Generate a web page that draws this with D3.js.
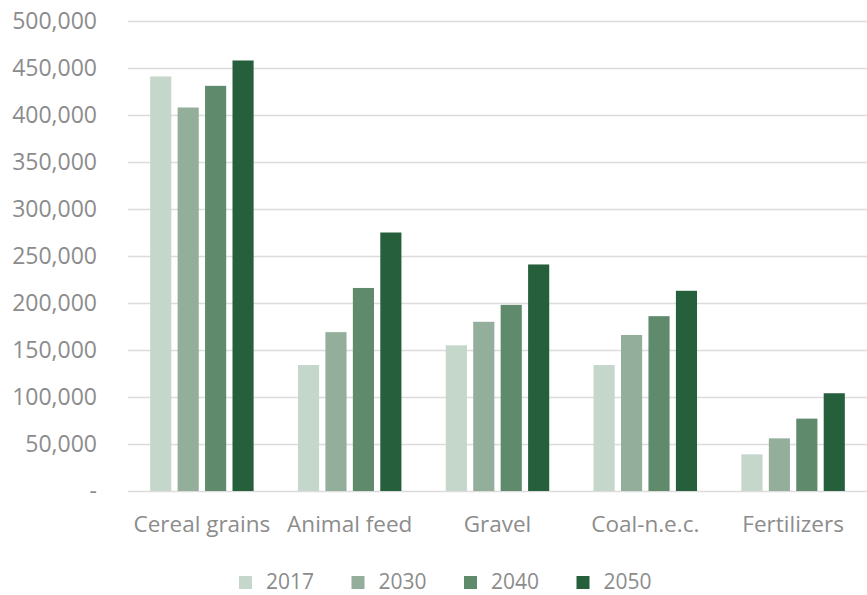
<!DOCTYPE html>
<html>
<head>
<meta charset="utf-8">
<script src="https://cdn.jsdelivr.net/npm/d3@7"></script>
<style>
  html, body { margin: 0; padding: 0; background: #ffffff; }
  svg { display: block; }
  text { font-family: "Open Sans", "Noto Sans", sans-serif; fill: #8c8c8c; }
</style>
</head>
<body>
<svg id="chart" width="867" height="595"></svg>
<script>
// Freight tonnage by commodity and forecast year
const categories = ["Cereal grains", "Animal feed", "Gravel", "Coal-n.e.c.", "Fertilizers"];
const years = ["2017", "2030", "2040", "2050"];
const values2017 = [441000, 134000, 155000, 134000, 39000];
const values2030 = [408000, 169000, 180000, 166000, 56000];
const values2040 = [431000, 216000, 198000, 186000, 77000];
const values2050 = [458000, 275000, 241000, 213000, 104000];
const yTicks = [0, 50000, 100000, 150000, 200000, 250000, 300000, 350000, 400000, 450000, 500000];
const colors = ["#c5d6ca", "#94ae9c", "#5f8a6c", "#265f3b"];

const seriesValues = [values2017, values2030, values2040, values2050];
const rows = categories.map((c, i) => ({
  category: c,
  bars: years.map((y, j) => ({ year: y, value: seriesValues[j][i], color: colors[j] }))
}));

const svg = d3.select("#chart");
const margin = { left: 128, right: 0, top: 21, bottom: 104 };
const width = 867, height = 595;

const x0 = d3.scaleBand()
  .domain(categories)
  .range([margin.left, width - margin.right])
  .paddingInner(0.30)
  .paddingOuter(0.15);

const x1 = d3.scaleBand()
  .domain(years)
  .range([0, x0.bandwidth()])
  .paddingInner(0.23);

const y = d3.scaleLinear()
  .domain([0, 500000])
  .range([height - margin.bottom, margin.top]);

// gridlines and value labels
const yAxis = d3.axisLeft(y)
  .tickValues(yTicks)
  .tickSize(-(width - margin.left - margin.right))
  .tickPadding(31)
  .tickFormat(d => d === 0 ? "-" : d3.format(",")(d));

const gy = svg.append("g")
  .attr("transform", `translate(${margin.left},0)`)
  .call(yAxis);
gy.select(".domain").remove();
gy.selectAll(".tick line").attr("stroke", "#dcdcdc").attr("stroke-width", 1.3);
gy.selectAll(".tick text")
  .attr("fill", "#8f8f8f")
  .style("font-size", "23px");

// bars
const groups = svg.append("g").selectAll("g")
  .data(rows)
  .join("g")
  .attr("transform", d => `translate(${x0(d.category)},0)`);

groups.selectAll("rect")
  .data(d => d.bars)
  .join("rect")
  .attr("x", d => x1(d.year))
  .attr("width", x1.bandwidth())
  .attr("y", d => y(d.value))
  .attr("height", d => y(0) - y(d.value))
  .attr("fill", d => d.color);

// category axis
const xAxis = d3.axisBottom(x0).tickSize(0).tickPadding(25);
const gx = svg.append("g")
  .attr("transform", `translate(0,${y(0)})`)
  .call(xAxis);
gx.select(".domain").remove();
gx.selectAll(".tick text")
  .attr("fill", "#8f8f8f")
  .style("font-size", "22.5px");

// legend
const legendX = d3.scaleBand()
  .domain(years)
  .range([239, 239 + 4 * 112.5]);

const legend = svg.append("g").selectAll("g")
  .data(years)
  .join("g")
  .attr("transform", d => `translate(${legendX(d)},576)`);

legend.append("rect")
  .attr("width", 13)
  .attr("height", 13)
  .attr("fill", (d, i) => colors[i]);

legend.append("text")
  .attr("x", 27)
  .attr("y", 6)
  .attr("dy", "0.35em")
  .attr("fill", "#8f8f8f")
  .style("font-size", "21px")
  .text(d => d);
</script>
</body>
</html>
